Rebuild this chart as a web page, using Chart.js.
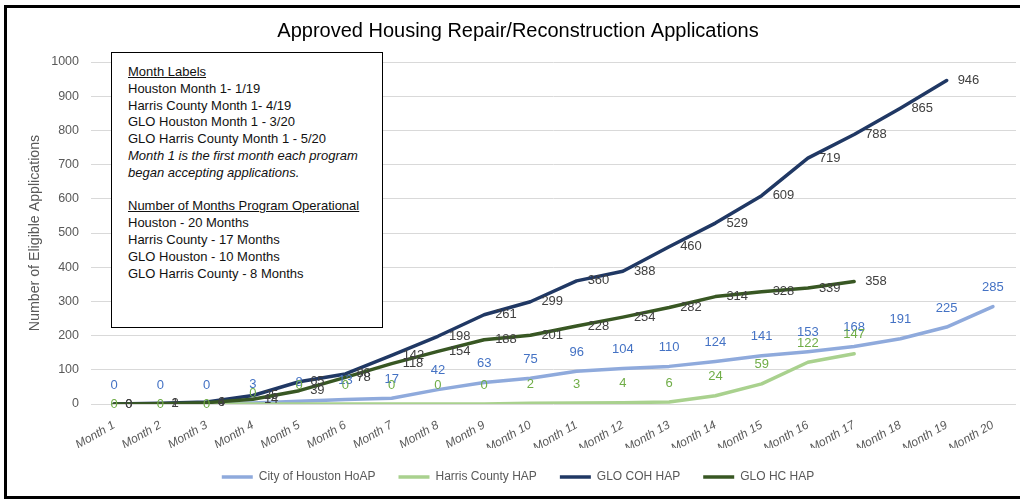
<!DOCTYPE html>
<html>
<head>
<meta charset="utf-8">
<script src="https://cdn.jsdelivr.net/npm/chart.js@4.4.0/dist/chart.umd.min.js"></script>
<style>
  html, body { margin: 0; padding: 0; background: #fff; overflow: hidden; }
  #wrap { position: relative; width: 1020px; height: 500px; }
  #cadre { position: absolute; left: 4px; top: 5px; width: 1040px; height: 494px; border: 3px solid #000; box-sizing: border-box; pointer-events: none; }
  #notes { position: absolute; left: 111px; top: 52px; width: 272px; height: 276px; border: 1.5px solid #000; box-sizing: border-box; background: #fff;
           font-family: "Liberation Sans", Arial, sans-serif; font-size: 13px; line-height: 16.8px; color: #111; padding: 11px 0 0 16px; }
  #notes p { margin: 0; white-space: nowrap; }
  #notes .u { text-decoration: underline; }
  #notes .i { font-style: italic; }
</style>
</head>
<body>
<div id="wrap">
  <canvas id="graphique" width="1020" height="500"></canvas>
  <div id="notes">
    <p class="u">Month Labels</p>
    <p>Houston Month 1- 1/19</p>
    <p>Harris County Month 1- 4/19</p>
    <p>GLO Houston Month 1 - 3/20</p>
    <p>GLO Harris County Month 1 - 5/20</p>
    <p class="i">Month 1 is the first month each program</p>
    <p class="i">began accepting applications.</p>
    <p>&nbsp;</p>
    <p class="u">Number of Months Program Operational</p>
    <p>Houston - 20 Months</p>
    <p>Harris County - 17 Months</p>
    <p>GLO Houston - 10 Months</p>
    <p>GLO Harris County - 8 Months</p>
  </div>
  <div id="cadre"></div>
</div>
<script>
// Données
const mois = ['Month 1', 'Month 2', 'Month 3', 'Month 4', 'Month 5', 'Month 6', 'Month 7', 'Month 8', 'Month 9', 'Month 10',
              'Month 11', 'Month 12', 'Month 13', 'Month 14', 'Month 15', 'Month 16', 'Month 17', 'Month 18', 'Month 19', 'Month 20'];
const houstonHoap = [0, 0, 0, 3, 8, 13, 17, 42, 63, 75, 96, 104, 110, 124, 141, 153, 168, 191, 225, 285];
const harrisHap = [0, 0, 0, 0, 0, 0, 0, 0, 0, 2, 3, 4, 6, 24, 59, 122, 147];
const gloCohHap = [0, 2, 6, 25, 65, 88, 142, 198, 261, 299, 360, 388, 460, 529, 609, 719, 788, 865, 946];
const gloHcHap = [0, 1, 4, 14, 39, 78, 118, 154, 188, 201, 228, 254, 282, 314, 328, 339, 358];

const police = '"Liberation Sans", Arial, sans-serif';

// Position des étiquettes par série : [dx, dy, alignement]
const styleEtiquettes = [
    { color: '#4472C4', pos: j => [0, -19, 'center'] },
    { color: '#70AD47', pos: j => j < 3 ? [0, 0, 'center'] : (j === 3 ? [0, -11, 'center'] : [0, -19, 'center']) },
    { color: '#404040', pos: j => [11, 0, 'left'] },
    { color: '#404040', pos: j => [11, 0, 'left'] }
];

const etiquettes = {
    id: 'etiquettes',
    afterDatasetsDraw(chart) {
        const ctx = chart.ctx;
        ctx.save();
        ctx.font = '13px ' + police;
        ctx.textBaseline = 'middle';
        chart.data.datasets.forEach((ds, i) => {
            const meta = chart.getDatasetMeta(i);
            const st = styleEtiquettes[i];
            meta.data.forEach((pt, j) => {
                const v = ds.data[j];
                if (v === null || v === undefined) return;
                const [dx, dy, align] = st.pos(j);
                ctx.fillStyle = st.color;
                ctx.textAlign = align;
                ctx.fillText(String(v), pt.x + dx, pt.y + dy);
            });
        });
        ctx.restore();
    }
};

const ctx_graph = document.getElementById('graphique');

new Chart(ctx_graph, {
    type: 'line',
    data: {
        labels: mois,
        datasets: [
            { label: 'City of Houston HoAP', data: houstonHoap, borderColor: '#8FAADC', backgroundColor: '#8FAADC', borderWidth: 3.5, order: 4 },
            { label: 'Harris County HAP', data: harrisHap, borderColor: '#A9D18E', backgroundColor: '#A9D18E', borderWidth: 3.5, order: 3 },
            { label: 'GLO COH HAP', data: gloCohHap, borderColor: '#203864', backgroundColor: '#203864', borderWidth: 3.5, order: 2 },
            { label: 'GLO HC HAP', data: gloHcHap, borderColor: '#385723', backgroundColor: '#385723', borderWidth: 3.5, order: 1 }
        ]
    },
    options: {
        responsive: false,
        animation: false,
        elements: { point: { radius: 0, hoverRadius: 0 }, line: { tension: 0, borderCapStyle: 'round', borderJoinStyle: 'round' } },
        layout: { padding: { left: 20, right: 4, top: 0, bottom: 7 } },
        scales: {
            x: {
                offset: true,
                grid: { display: false, drawTicks: false },
                border: { display: false },
                ticks: { color: '#595959', font: { family: police, size: 12, style: 'italic' }, minRotation: 30, maxRotation: 30, autoSkip: false, padding: 14 },
                afterFit(scale) { scale.height = 44; }
            },
            y: {
                min: 0,
                max: 1000,
                ticks: { stepSize: 100, color: '#595959', font: { family: police, size: 12.5 }, padding: 12, callback: v => String(v) },
                grid: { color: '#D9D9D9', lineWidth: 1, drawTicks: false },
                border: { display: false },
                title: { display: true, text: 'Number of Eligible Applications', color: '#595959', font: { family: police, size: 14.2 }, padding: { top: 7, bottom: 0 } },
                afterFit(scale) { scale.width = 71; }
            }
        },
        plugins: {
            title: {
                display: true,
                text: 'Approved Housing Repair/Reconstruction Applications',
                color: '#000',
                font: { family: police, size: 20, weight: 'normal' },
                padding: { top: 19, bottom: 19 }
            },
            legend: {
                position: 'bottom',
                labels: {
                    usePointStyle: true,
                    pointStyle: 'line',
                    pointStyleWidth: 31,
                    color: '#595959',
                    font: { family: police, size: 12 },
                    padding: 23,
                    sort: (a, b) => a.datasetIndex - b.datasetIndex
                }
            },
            tooltip: { enabled: false }
        }
    },
    plugins: [etiquettes]
});
</script>
</body>
</html>
